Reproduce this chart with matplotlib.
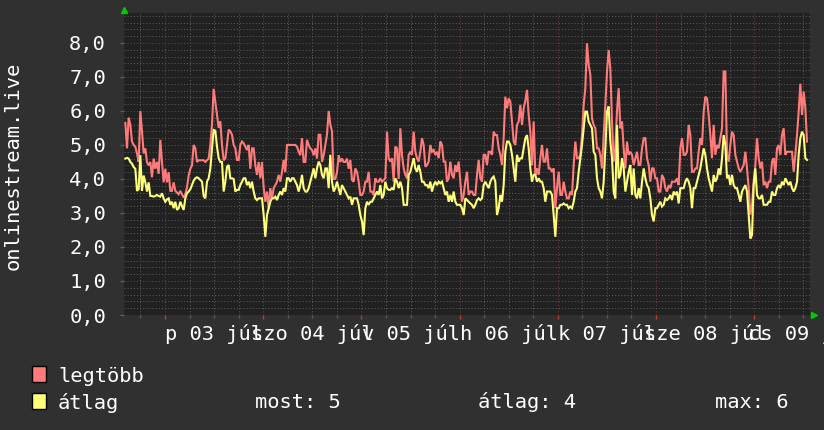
import numpy as np
import matplotlib
matplotlib.use("Agg")
import matplotlib.pyplot as plt
from matplotlib.transforms import blended_transform_factory
from matplotlib.patches import Rectangle

# ---------------- data ----------------
# time axis: days relative to 2020-07-03 00:00 (p 03 júl)
t_start = -0.404
t_step = 0.016972   # days between samples

legtobb_a = [5.65, 4.9, 5.8, 5.6, 5.1, 5.0, 4.95, 4.75, 4.5, 6.0,
             5.4, 4.75, 4.9, 4.5, 4.4, 4.5, 4.05, 4.6, 4.3, 4.5,
             4.15, 5.15, 4.5, 3.9, 4.3, 3.9, 4.2, 3.65, 3.65, 3.9,
             3.65, 3.6, 3.55, 3.65, 3.55, 3.45, 3.55, 3.75, 4.1, 4.3,
             4.4, 5.0, 4.9, 4.5, 4.55, 4.55, 4.55, 4.55, 4.5, 4.55,
             4.6, 5.0, 5.6, 6.65, 6.27, 5.9, 5.5, 5.7, 5.0, 4.55,
             4.6, 5.0, 5.45, 5.4, 5.3, 5.0, 4.9]
legtobb_b = [4.56, 4.56, 5.0, 5.1, 5.05, 4.95, 4.85, 5.0, 4.3, 4.9,
             4.9, 4.4, 4.12, 4.5, 4.02, 4.5, 3.75, 3.33, 3.63, 3.14,
             3.73, 3.43, 3.73, 3.82, 3.92, 4.12, 3.92, 4.2, 4.56, 4.2,
             5.0, 5.0, 5.0, 5.0, 5.0, 5.0, 4.95, 4.8, 4.7, 5.2,
             4.5, 4.5, 5.15, 5.0, 4.9, 4.85, 4.7, 4.9, 4.6, 5.3,
             5.3, 4.5, 4.7, 5.0, 5.3, 6.0, 5.6, 5.4, 4.0, 4.0,
             4.2, 4.7, 4.5, 4.6, 4.5, 4.5, 4.6, 4.3]
legtobb_c = [4.56, 3.97, 3.92, 4.31, 4.21, 3.92, 3.53, 3.53, 3.63, 3.92,
             3.92, 4.21, 3.63, 3.63, 3.53, 4.02, 3.92, 3.92, 4.02, 3.92,
             3.97, 4.02, 5.39, 4.61, 4.51, 4.61, 3.92, 4.95, 4.9, 4.0,
             5.49, 4.7, 4.31, 4.12, 4.02, 4.71, 4.8, 4.71, 5.39, 4.8,
             4.61, 4.51, 4.8, 5.2, 5.0, 4.36, 4.41, 4.51, 5.0, 4.8,
             4.85, 4.71, 4.8, 4.61, 5.1, 5.0, 4.51, 4.51, 3.92, 4.02,
             4.51, 4.12, 4.02, 4.41, 4.21, 4.51, 3.92, 3.33, 3.53]
legtobb_d = [3.92, 4.21, 3.53, 3.63, 3.63, 3.53, 3.53, 4.12, 4.56, 4.02,
             3.92, 4.71, 4.71, 4.41, 4.8, 4.8, 4.71, 5.39, 5.29, 5.29,
             4.9, 4.71, 4.41, 5.2, 6.42, 6.08, 6.37, 6.27, 5.69, 5.1,
             5.0, 5.59, 5.69, 6.18, 5.59, 6.08, 6.3, 6.62, 5.88, 5.39,
             4.4, 5.69, 4.12, 4.31, 4.12, 4.61, 5.0, 4.51, 4.51, 4.9,
             4.31, 4.31, 4.21, 4.31, 3.14, 3.73, 4.21, 3.53, 3.53, 3.92,
             3.63, 3.43, 3.43, 3.63, 3.53, 4.41, 5.1, 4.61]
legtobb_e = [4.61, 4.71, 5.29, 6.18, 6.67, 7.99, 7.35, 7.06, 5.78, 5.59,
             5.49, 4.9, 4.9, 4.71, 4.31, 5.29, 6.18, 7.16, 7.79, 7.25,
             5.69, 4.51, 4.9, 6.0, 6.67, 5.49, 5.69, 4.9, 4.31, 5.1,
             4.71, 4.8, 4.71, 4.41, 4.61, 4.8, 4.41, 4.41, 4.9, 5.2,
             5.2, 4.61, 4.41, 3.92, 4.31, 4.31, 4.02, 4.02, 3.63, 3.63,
             4.12, 4.02, 3.73, 3.63, 3.82, 3.73, 3.92, 3.92, 3.92, 4.02,
             3.82, 4.9, 5.2, 4.71, 4.71, 4.8, 5.59, 5.29, 4.21]
legtobb_f = [4.21, 4.31, 4.31, 4.8, 5.2, 5.0, 5.98, 6.42, 6.37, 5.88,
             5.29, 4.61, 5.59, 4.71, 5.0, 4.9, 5.2, 5.49, 7.16, 7.16,
             4.71, 4.51, 5.0, 5.39, 5.29, 4.71, 4.51, 4.31, 4.21, 4.31,
             4.41, 4.8, 4.31, 3.73, 2.95, 3.24, 3.92, 4.41, 5.2, 4.61,
             4.31, 4.51, 3.82, 3.92, 3.73, 3.92, 3.92, 4.51, 4.61, 4.12,
             4.9, 5.0, 4.71, 5.29, 5.49, 4.71, 4.8, 4.8, 4.8, 4.8,
             4.21, 4.71, 5.29, 5.98, 6.8, 5.88, 6.57, 6.08, 5.1]

atlag_a = [4.6, 4.62, 4.6, 4.5, 4.45, 4.35, 4.3, 3.65, 3.7, 4.7,
           3.65, 4.1, 3.9, 3.63, 3.9, 3.5, 3.5, 3.48, 3.5, 3.53,
           3.5, 3.48, 3.58, 3.43, 3.33, 3.4, 3.43, 3.24, 3.33, 3.14,
           3.33, 3.09, 3.14, 3.33, 3.2, 3.09, 3.43, 3.58, 3.63, 3.7,
           3.82, 3.95, 4.02, 4.05, 4.02, 3.97, 3.92, 3.5, 3.43, 3.92,
           4.02, 4.3, 4.9, 5.44, 5.42, 4.95, 4.61, 4.5, 4.5, 3.63,
           3.92, 4.36, 4.41, 4.02, 4.02, 4.0, 3.63]
atlag_b = [3.68, 3.68, 3.82, 3.92, 4.02, 4.02, 3.82, 3.92, 3.73, 3.92,
           3.63, 3.43, 3.38, 3.43, 3.43, 3.43, 2.95, 2.3, 2.94, 3.14,
           3.33, 3.43, 3.43, 3.48, 3.38, 3.53, 3.63, 3.53, 3.73, 3.63,
           4.02, 4.02, 3.92, 4.02, 4.02, 3.92, 3.82, 3.63, 3.82, 4.12,
           3.73, 3.63, 3.63, 3.73, 3.92, 4.12, 4.31, 4.02, 4.31, 4.51,
           4.41, 4.12, 4.02, 4.31, 4.31, 3.73, 4.71, 3.92, 3.63, 3.73,
           3.92, 3.73, 3.53, 3.82, 3.73, 3.63, 3.53, 3.43]
atlag_c = [3.48, 3.24, 3.43, 3.43, 3.43, 3.24, 2.94, 2.75, 2.35, 3.14,
           3.33, 3.24, 3.33, 3.33, 3.43, 3.53, 3.63, 3.53, 3.82, 3.43,
           3.53, 3.92, 3.73, 3.68, 3.68, 3.73, 3.68, 4.02, 3.92, 3.73,
           3.92, 3.73, 3.24, 3.24, 3.24, 4.12, 4.21, 4.41, 4.61, 4.31,
           4.21, 4.41, 4.21, 3.92, 3.92, 3.82, 3.82, 3.73, 3.92, 3.63,
           3.82, 3.92, 3.82, 3.92, 3.87, 3.92, 3.73, 3.53, 3.63, 3.33,
           3.53, 3.33, 3.63, 3.33, 3.24, 3.24, 3.24, 3.14, 2.94]
atlag_d = [3.43, 3.38, 3.33, 3.28, 3.24, 3.14, 3.24, 3.38, 3.43, 3.38,
           3.43, 3.82, 3.92, 3.82, 3.73, 3.92, 4.02, 4.07, 3.92, 2.94,
           3.14, 3.53, 3.33, 3.82, 4.8, 5.1, 5.1, 5.0, 4.71, 4.31,
           3.92, 4.71, 4.51, 4.61, 4.61, 4.9, 5.2, 5.29, 4.9, 4.31,
           3.92, 4.12, 4.12, 3.92, 4.02, 3.92, 3.92, 3.73, 3.33, 3.63,
           3.63, 3.63, 3.53, 2.94, 2.3, 3.14, 3.14, 3.24, 3.24, 3.28,
           3.24, 3.24, 3.14, 3.19, 3.14, 3.33, 3.63, 3.73]
atlag_e = [4.21, 4.61, 5.0, 5.49, 5.98, 5.98, 5.69, 5.59, 5.49, 4.8,
           4.71, 4.02, 3.73, 3.63, 3.43, 3.92, 4.9, 5.98, 6.13, 5.1,
           4.61, 3.63, 3.43, 5.59, 4.02, 4.12, 4.61, 4.31, 3.63, 3.92,
           4.21, 4.41, 3.53, 4.31, 3.53, 3.43, 3.73, 3.43, 3.92, 4.31,
           4.02, 3.82, 3.73, 3.43, 2.94, 2.75, 3.14, 3.14, 3.24, 3.33,
           3.19, 3.24, 3.43, 3.38, 3.43, 3.53, 3.38, 3.63, 3.53, 3.63,
           3.28, 3.73, 3.73, 3.73, 3.92, 4.02, 3.92, 3.73, 3.14]
atlag_f = [3.73, 3.73, 3.92, 4.12, 4.31, 4.61, 4.9, 4.71, 4.31, 4.02,
           3.82, 3.63, 4.12, 3.92, 4.02, 4.31, 4.12, 4.61, 5.29, 5.0,
           4.02, 4.12, 3.82, 4.12, 3.82, 3.73, 3.73, 3.53, 3.33, 3.63,
           3.73, 3.82, 3.63, 2.94, 2.25, 2.35, 3.82, 4.31, 3.53, 3.43,
           3.43, 3.53, 3.24, 3.24, 3.24, 3.33, 3.33, 3.63, 3.53, 3.53,
           3.73, 3.82, 3.73, 3.92, 3.82, 4.02, 3.92, 3.82, 3.92, 3.73,
           3.63, 3.73, 3.92, 4.71, 5.2, 5.39, 5.29, 4.61, 4.56]

day_labels = ["p 03 júl", "szo 04 júl", "v 05 júl", "h 06 júl",
              "k 07 júl", "sze 08 júl", "cs 09 júl"]
y_ticks = [0, 1, 2, 3, 4, 5, 6, 7, 8]
y_ticklabels = ["0,0", "1,0", "2,0", "3,0", "4,0", "5,0", "6,0", "7,0", "8,0"]
y_title = "onlinestream.live"
series_names = ["legtöbb", "átlag"]
stats_labels = ["most: 5", "átlag: 4", "max: 6"]

legtobb = legtobb_a + legtobb_b + legtobb_c + legtobb_d + legtobb_e + legtobb_f
atlag = atlag_a + atlag_b + atlag_c + atlag_d + atlag_e + atlag_f
t = t_start + t_step * np.arange(len(legtobb))

# ---------------- style ----------------
BG = "#303030"
CANVAS = "#212121"
RED = "#ff7b7b"
YEL = "#ffff7a"
MINOR = "#5a5a5a"
MAJOR = "#7a3a3a"
FONT = "DejaVu Sans Mono"
FS = 14.7
W, H = 824, 430

plt.rcParams["font.family"] = [FONT, "DejaVu Sans"]

fig = plt.figure(figsize=(W / 100, H / 100), dpi=100, facecolor=BG)
ax = fig.add_axes([124 / W, 115 / H, 686 / W, 302 / H])
ax.set_facecolor(CANVAS)

ax.plot(t, legtobb, color=RED, lw=1.5, zorder=3, solid_joinstyle="miter")
ax.plot(t, atlag, color=YEL, lw=1.5, zorder=4, solid_joinstyle="miter")

ax.set_xlim(-0.4175, 6.568)
ax.set_ylim(0, 8.88)

ax.set_yticks(y_ticks)
ax.set_yticklabels(y_ticklabels)
ax.set_yticks(np.arange(0, 8.81, 0.2), minor=True)
ax.set_xticks(range(7))
ax.set_xticklabels([])
ax.set_xticks(np.arange(-0.25, 6.6, 0.25), minor=True)

ax.tick_params(axis="y", which="major", length=3, width=1, color=MINOR,
               labelcolor="white", labelsize=FS, pad=10)
ax.tick_params(axis="y", which="minor", length=0)
ax.tick_params(axis="x", which="major", length=3, width=1, color="#b04040")
ax.tick_params(axis="x", which="minor", length=2, width=1, color=MINOR)

ax.grid(which="minor", color=MINOR, linestyle=(0, (1, 2)), linewidth=0.75)
ax.grid(which="major", color=MAJOR, linestyle=(0, (1, 2)), linewidth=0.75)
ax.set_axisbelow(True)
for s in ax.spines.values():
    s.set_visible(False)

# day labels centred at noon
tr = blended_transform_factory(ax.transData, fig.transFigure)
for i, lab in enumerate(day_labels):
    ax.text(i + 0.5, 1 - 340 / H, lab, transform=tr, ha="center", va="baseline",
            color="white", fontsize=FS, family=FONT, clip_on=False)

# y title
fig.text(13 / W, 1 - 166 / H, y_title, rotation=90, ha="center", va="center",
         color="white", fontsize=FS, family=FONT)

# arrows
fig.lines.append(plt.Line2D([124 / W], [1 - 10 / H], transform=fig.transFigure,
                            marker="^", markersize=5, color="#00cc00", lw=0))
fig.lines.append(plt.Line2D([814 / W], [1 - 315 / H], transform=fig.transFigure,
                            marker=">", markersize=5, color="#00cc00", lw=0))

# legend
for (col, name, y_base) in [(RED, series_names[0], 382), (YEL, series_names[1], 409)]:
    fig.patches.append(Rectangle((32 / W, 1 - y_base / H), 14 / W, 16 / H,
                                 transform=fig.transFigure, facecolor=col,
                                 edgecolor="black", linewidth=1))
    fig.text(58 / W, 1 - y_base / H, name, ha="left", va="baseline",
             color="white", fontsize=FS, family=FONT)

for x0, lab in zip([255, 478, 715], stats_labels):
    fig.text(x0 / W, 1 - 408 / H, lab, ha="left", va="baseline",
             color="white", fontsize=FS, family=FONT)

fig.savefig("out.png", dpi=100, facecolor=BG)
